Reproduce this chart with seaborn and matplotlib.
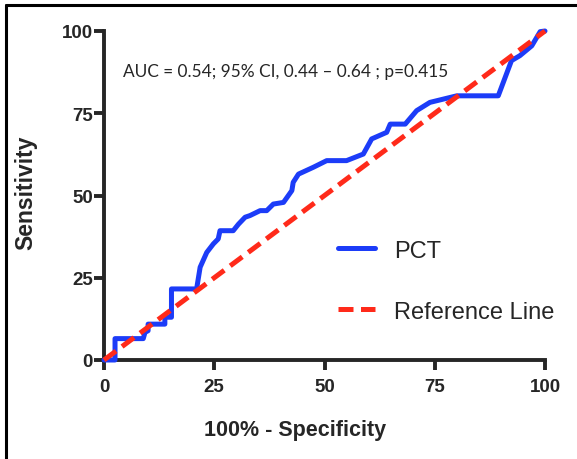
import matplotlib
matplotlib.use("Agg")
import matplotlib.pyplot as plt
from matplotlib.lines import Line2D
import pandas as pd
import seaborn as sns

# ROC curve points (100% - specificity, sensitivity)
fpr = [0, 2.5, 2.5, 8.9, 9.3, 10.0, 10.0, 13.8, 13.8, 15.3, 15.3, 21.0, 21.8,
       23.3, 24.8, 25.9, 26.3, 29.3, 30.5, 32.0, 33.1, 35.4, 36.9, 38.4, 40.7,
       42.6, 42.9, 44.1, 47.5, 50.5, 55.0, 58.8, 60.7, 64.1, 64.9, 68.3, 70.9,
       73.9, 80.0, 89.4, 92.4, 94.3, 97.0, 98.9, 100]
tpr = [0, 0, 6.5, 6.5, 8.4, 8.9, 10.9, 10.9, 13.0, 13.0, 21.6, 21.6, 28.2,
       32.7, 35.3, 36.8, 39.3, 39.3, 41.3, 43.4, 43.9, 45.4, 45.4, 47.4, 47.9,
       51.5, 54.0, 56.5, 58.6, 60.6, 60.6, 62.6, 67.2, 69.2, 71.7, 71.7, 75.8,
       78.3, 80.3, 80.3, 91.0, 92.5, 95.5, 99.8, 100]
ref_x = [0, 100]
ref_y = [0, 100]
ticks = [0, 25, 50, 75, 100]
note = "AUC = 0.54; 95% CI, 0.44 \u2013 0.64 ; p=0.415"

roc = pd.DataFrame({"fpr": fpr, "tpr": tpr})
ref = pd.DataFrame({"x": ref_x, "y": ref_y})

sns.set_style("ticks")
plt.rcParams["font.family"] = ["Liberation Sans", "DejaVu Sans"]

fig = plt.figure(figsize=(5.77, 4.60), dpi=100)
ax = fig.add_axes([104 / 577, 99 / 460, 441 / 577, 329 / 460])

blue = "#1c3cf8"
red = "#ff2a1a"

sns.lineplot(data=roc, x="fpr", y="tpr", sort=False, estimator=None, ax=ax,
             color=blue, linewidth=3.6, label="PCT", clip_on=False, zorder=3)
sns.lineplot(data=ref, x="x", y="y", ax=ax, color=red, linewidth=3.6,
             label="Reference Line", clip_on=False, zorder=4)
ax.lines[1].set_dashes((3, 1.5))
ax.lines[1].set_dash_capstyle("butt")

ax.set_xlim(0, 100)
ax.set_ylim(0, 100)
ax.set_xticks(ticks)
ax.set_yticks(ticks)
sns.despine(ax=ax)
for s in ["left", "bottom"]:
    ax.spines[s].set_linewidth(2.8)
ax.tick_params(axis="both", width=2.8, length=7, labelsize=13.5)
ax.tick_params(axis="x", pad=6)
ax.tick_params(axis="y", pad=1)
for lab in ax.get_xticklabels() + ax.get_yticklabels():
    lab.set_fontweight("bold")

ax.set_xlabel("100% - Specificity", fontsize=15.5, fontweight="bold")
ax.set_ylabel("Sensitivity", fontsize=16.5, fontweight="bold")
ax.xaxis.set_label_coords((295 - 104) / 441, -0.178)
ax.yaxis.set_label_coords(-0.150, 0.51)

ax.text(0.043, 0.879, note, transform=ax.transAxes, va="center", ha="left",
        fontsize=12.4, family=["Lato", "DejaVu Sans"])

leg = ax.legend(loc="center left", bbox_to_anchor=(0.531, 0.240), frameon=False,
                fontsize=17, handlelength=1.55, handletextpad=0.8,
                labelspacing=1.65, borderpad=0, borderaxespad=0)
for h in leg.get_lines():
    h.set_linewidth(3.6)

# frame lines at the left and top of the figure
fig.add_artist(Line2D([6 / 577, 6 / 577], [0, 1 - 6 / 460], transform=fig.transFigure,
                      color="black", linewidth=2.2))
fig.add_artist(Line2D([6 / 577, 1], [1 - 6 / 460, 1 - 6 / 460], transform=fig.transFigure,
                      color="black", linewidth=2.2))

fig.savefig("out.png", dpi=100)
